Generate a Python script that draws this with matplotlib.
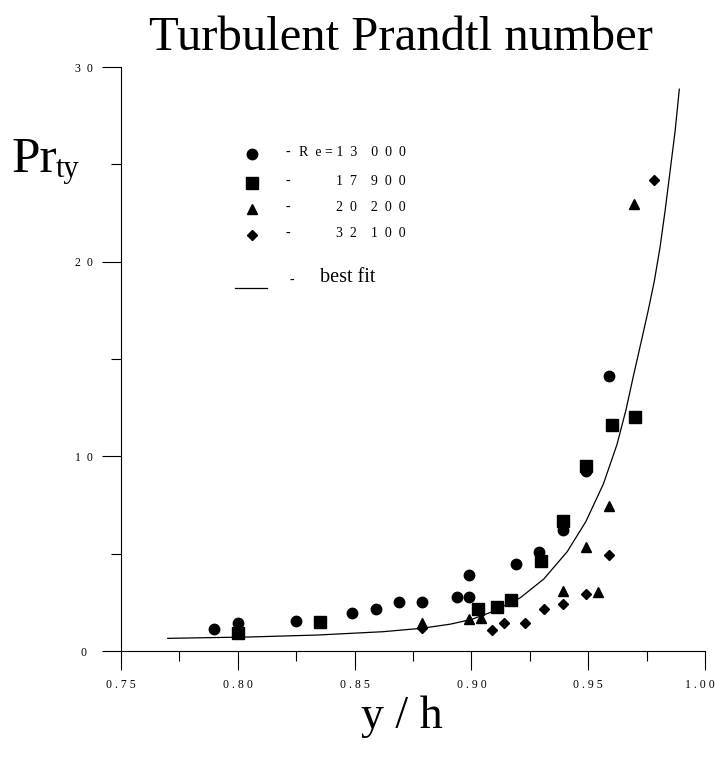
"""
Turbulent Prandtl number vs y/h
"""

import matplotlib.pyplot as plt
from matplotlib.ticker import FixedLocator, FixedFormatter
from matplotlib.transforms import ScaledTranslation

plt.rcParams["font.family"] = ["Liberation Serif", "DejaVu Serif"]

# 数据
# Re = 13 000 (circles)
re13_x = [0.790, 0.800, 0.825, 0.849, 0.859, 0.869, 0.879, 0.894, 0.899, 0.899,
          0.919, 0.929, 0.939, 0.949, 0.959]
re13_y = [1.12, 1.43, 1.56, 1.97, 2.15, 2.52, 2.52, 2.78, 2.79, 3.90,
          4.46, 5.08, 6.23, 9.23, 14.15]
# Re = 17 900 (squares)
re17_x = [0.800, 0.835, 0.903, 0.911, 0.917, 0.930, 0.939, 0.949, 0.960, 0.970]
re17_y = [0.91, 1.51, 2.15, 2.28, 2.62, 4.60, 6.69, 9.49, 11.6, 12.0]
# Re = 20 200 (triangles)
re20_x = [0.879, 0.899, 0.904, 0.939, 0.949, 0.954, 0.959, 0.9695]
re20_y = [1.46, 1.63, 1.71, 3.09, 5.35, 3.04, 7.46, 22.95]
# Re = 32 100 (diamonds)
re32_x = [0.879, 0.909, 0.914, 0.923, 0.931, 0.939, 0.949, 0.959, 0.978]
re32_y = [1.17, 1.07, 1.46, 1.46, 2.15, 2.43, 2.92, 4.93, 24.19]
# best fit curve
fit_x = [0.770, 0.805, 0.834, 0.862, 0.879, 0.891, 0.900, 0.909, 0.921, 0.931,
         0.941, 0.949, 0.9565, 0.9623, 0.9662, 0.9693, 0.9729, 0.9757, 0.9783,
         0.9807, 0.9829, 0.9850, 0.9872, 0.989]
fit_y = [0.65, 0.72, 0.82, 0.99, 1.17, 1.38, 1.62, 2.02, 2.74, 3.70,
         5.10, 6.65, 8.58, 10.6, 12.4, 14.1, 16.0, 17.5, 19.0,
         20.7, 22.6, 24.6, 26.7, 28.86]

x_ticks = [0.75, 0.80, 0.85, 0.90, 0.95, 1.00]
x_tick_labels = ["0 . 7 5", "0 . 8 0", "0 . 8 5", "0 . 9 0", "0 . 9 5", "1 . 0 0"]
y_ticks = [0, 10, 20, 30]
y_tick_labels = ["0", "1  0", "2  0", "3  0"]
legend_labels = ["R  e = 1  3    0  0  0", "1  7    9  0  0", "2  0    2  0  0", "3  2    1  0  0"]

W, H = 718, 758
fig = plt.figure(figsize=(W / 100, H / 100), dpi=100)
ax = fig.add_axes([121 / W, 1 - 651 / H, 584 / W, 584 / H])

# 曲线与散点
ax.plot(fit_x, fit_y, "k-", linewidth=0.9, zorder=2)
ax.plot(re13_x, re13_y, "ko", markersize=7.5, linestyle="none", zorder=3)
ax.plot(re17_x, re17_y, "ks", markersize=8, linestyle="none", zorder=3)
ax.plot(re20_x, re20_y, "k^", markersize=7.5, linestyle="none", zorder=3)
ax.plot(re32_x, re32_y, "kD", markersize=5.5, linestyle="none", zorder=3)

ax.set_xlim(0.75, 1.00)
ax.set_ylim(0, 30)
for s in ["top", "right"]:
    ax.spines[s].set_visible(False)
for s in ["left", "bottom"]:
    ax.spines[s].set_linewidth(0.8)

ax.xaxis.set_major_locator(FixedLocator(x_ticks))
ax.xaxis.set_major_formatter(FixedFormatter(x_tick_labels))
ax.xaxis.set_minor_locator(FixedLocator([0.775, 0.825, 0.875, 0.925, 0.975]))
ax.yaxis.set_major_locator(FixedLocator(y_ticks))
ax.yaxis.set_major_formatter(FixedFormatter(y_tick_labels))
ax.yaxis.set_minor_locator(FixedLocator([5, 15, 25]))
ax.tick_params(which="major", direction="out", length=14, width=0.8, labelsize=8.5)
ax.tick_params(which="minor", direction="out", length=7, width=0.8)
ax.tick_params(axis="x", which="major", pad=6)
ax.tick_params(axis="y", which="major", pad=13)
for lab in ax.get_yticklabels():
    lab.set_horizontalalignment("center")

# 最后一个刻度标签左移一点, 避免被裁掉
last = ax.xaxis.get_major_ticks()[-1].label1
last.set_transform(last.get_transform() + ScaledTranslation(-4 / 72, 0, fig.dpi_scale_trans))

# 文字与图例 (像素坐标覆盖层)
ov = fig.add_axes([0, 0, 1, 1])
ov.set_xlim(0, W)
ov.set_ylim(H, 0)
ov.axis("off")

ov.text(401, 50, "Turbulent Prandtl number", fontsize=35, ha="center", va="baseline")
ov.text(12, 172, "Pr", fontsize=37, ha="left", va="baseline")
ov.text(56, 177, "ty", fontsize=22, ha="left", va="baseline")
ov.text(402, 728, "y / h", fontsize=33, ha="center", va="baseline")

leg_markers = [("o", 7.5), ("s", 8), ("^", 7.5), ("D", 5.5)]
leg_rows = [154, 183, 209, 235]
for (m, ms), yy, lab in zip(leg_markers, leg_rows, legend_labels):
    ov.plot([252], [yy], marker=m, color="k", markersize=ms, linestyle="none")
    ov.text(288, yy + 2, "-", fontsize=10, ha="center", va="baseline")
    ov.text(406, yy + 2, lab, fontsize=10, ha="right", va="baseline")

ov.plot([235, 267], [288, 288], "k-", linewidth=0.9)
ov.text(292, 284, "-", fontsize=10, ha="center", va="baseline")
ov.text(320, 282, "best fit", fontsize=14.5, ha="left", va="baseline")

fig.savefig("out.png", dpi=100)
